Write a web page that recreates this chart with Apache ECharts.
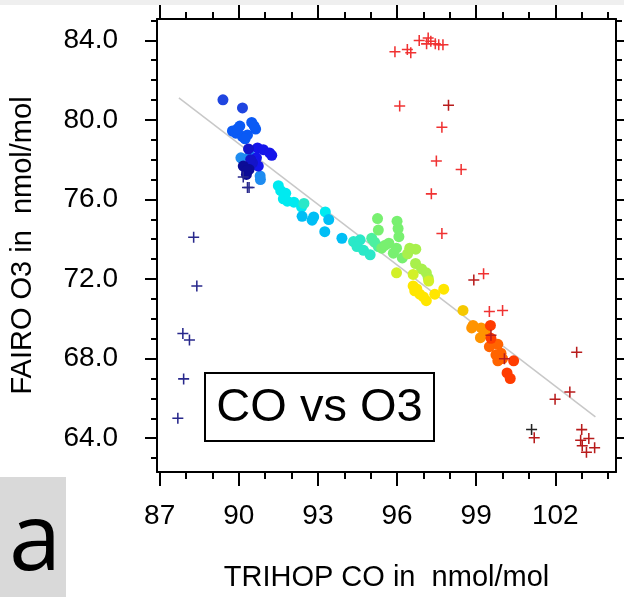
<!DOCTYPE html>
<html>
<head>
<meta charset="utf-8">
<script src="https://cdn.jsdelivr.net/npm/echarts@6/dist/echarts.min.js"></script>
<style>
  html, body { margin: 0; padding: 0; background: #ffffff; }
  #chart { width: 624px; height: 597px; }
</style>
</head>
<body>
<div id="chart"></div>
<script>
// ---- axis ticks ----
const xMajorTicks = [87, 90, 93, 96, 99, 102];
const xMinorTicks = [88, 89, 91, 92, 94, 95, 97, 98, 100, 101, 103, 104];
const yMajorTicks = [64, 68, 72, 76, 80, 84];
const yMinorTicks = [63, 65, 66, 67, 69, 70, 71, 73, 74, 75, 77, 78, 79, 81, 82, 83, 85];

// ---- CO (x) vs O3 (y) samples, grouped by colour band ----
const navyDots = [[90.17, 77.68], [90.39, 77.51], [90.29, 77.26], [90.30, 77.45]];
const darkBlueDots = [[90.37, 78.54], [90.52, 77.84], [90.45, 78.00]];
const blueDots = [[90.71, 78.59], [90.93, 78.50], [91.17, 78.34], [91.25, 78.22], [90.67, 78.09], [90.74, 77.68], [90.60, 77.90]];
const royalDots = [[89.40, 81.01], [90.14, 80.60]];
const azureDots = [[90.04, 79.69], [90.49, 79.87], [90.64, 79.54], [89.76, 79.44], [89.89, 79.33], [90.14, 79.16], [90.33, 79.24], [90.24, 79.05], [89.95, 79.55], [90.58, 79.70]];
const dodgerDots = [[90.08, 78.09], [90.42, 78.22], [90.81, 77.18], [90.82, 77.00]];
const cyanDots = [[91.50, 76.69], [91.59, 76.44], [91.78, 76.31], [91.69, 76.03], [91.84, 75.91], [92.09, 75.86], [92.38, 75.62], [93.28, 75.37]];
const skyDots = [[92.40, 75.15], [92.84, 75.12], [92.78, 74.96], [93.41, 74.99], [93.26, 74.38], [93.91, 74.05]];
const tealDots = [[92.47, 75.80], [94.35, 73.88], [94.60, 73.97], [94.48, 73.63], [94.73, 73.44], [94.98, 73.22]];
const springDots = [[95.04, 74.05], [95.29, 73.63], [95.15, 73.85]];
const greenDots = [[95.26, 75.04], [95.29, 74.46], [95.42, 73.55], [95.69, 73.80], [96.00, 74.91], [96.04, 74.54], [96.07, 74.13], [95.86, 73.30], [95.98, 73.55], [96.20, 73.06], [95.55, 73.70]];
const limeDots = [[96.40, 73.27], [96.71, 73.50], [96.48, 73.55], [96.70, 72.78], [96.93, 72.51], [97.11, 72.31], [97.18, 72.06]];
const chartreuseDots = [[95.98, 72.31], [96.61, 72.23], [97.20, 71.90]];
const yellowDots = [[96.61, 71.65], [96.67, 71.41], [96.86, 71.24], [97.11, 70.91], [97.43, 71.24], [97.77, 71.49], [96.75, 71.50], [97.00, 71.10]];
const goldDots = [[98.50, 70.42]];
const orangeDots = [[98.88, 69.67], [98.83, 69.54], [99.19, 69.54], [99.16, 69.05], [99.35, 69.30]];
const darkOrangeDots = [[99.50, 68.60], [99.82, 68.72], [99.94, 68.27], [99.82, 67.89], [99.75, 68.19], [100.00, 68.00]];
const redOrangeDots = [[100.42, 67.89], [100.17, 67.28], [100.29, 67.00], [99.54, 69.67], [99.56, 69.02]];

// ---- flagged samples (crosses) ----
const navyCrosses = [[87.69, 65.00], [87.91, 66.98], [87.88, 69.26], [88.13, 68.93], [88.29, 74.10], [88.41, 71.65], [90.17, 77.13], [90.33, 76.60], [90.39, 76.60]];
const redCrosses = [[95.92, 83.42], [96.39, 83.54], [96.52, 83.37], [96.84, 83.99], [97.18, 84.11], [97.28, 83.95], [97.12, 83.82], [97.45, 83.83], [97.58, 83.78], [97.74, 83.78],
  [96.10, 80.70], [97.70, 79.63], [97.49, 77.93], [98.43, 77.51], [97.30, 76.28], [97.70, 74.29], [99.28, 72.26], [99.50, 70.37], [100.00, 70.42]];
const darkRedCrosses = [[97.95, 80.73], [98.91, 71.95], [100.07, 67.99], [99.56, 69.17], [102.81, 68.32], [102.55, 66.32], [101.99, 65.96], [101.20, 64.02],
  [103.00, 64.43], [103.27, 63.98], [102.96, 63.90], [103.02, 63.62], [103.49, 63.52], [103.18, 63.29]];
const blackCrosses = [[101.10, 64.44]];

// ---- linear fit end points ----
const fitLine = [[87.73, 81.11], [103.52, 65.07]];

const FONT = '"Liberation Sans", Arial, Helvetica, sans-serif';
const PLUS = 'path://M4.3,0h1.4v4.3h4.3v1.4h-4.3v4.3h-1.4v-4.3h-4.3v-1.4h4.3z';

const dotGroups = [
  [royalDots, '#1f45e0'], [azureDots, '#0a5af5'], [dodgerDots, '#1e8cf0'],
  [blueDots, '#1515ea'], [darkBlueDots, '#1414c8'], [navyDots, '#0c0c96'],
  [cyanDots, '#00eaf0'], [skyDots, '#00bef5'], [tealDots, '#2ae8c8'],
  [springDots, '#4cf0a0'], [greenDots, '#78f070'], [limeDots, '#a8f04c'],
  [chartreuseDots, '#d2f028'], [yellowDots, '#ffe600'], [goldDots, '#f5c800'],
  [orangeDots, '#ff9400'], [darkOrangeDots, '#ff6400'], [redOrangeDots, '#ff3c00']
];
const crossGroups = [
  [navyCrosses, '#28288c'], [redCrosses, '#f03232'], [darkRedCrosses, '#b81c1c'], [blackCrosses, '#222222']
];

const series = [{
  type: 'line', data: fitLine, symbol: 'none', silent: true, z: 1,
  lineStyle: { color: '#c8c8c8', width: 1.5 }
}];
dotGroups.forEach(([data, color]) => series.push({
  type: 'scatter', data, symbol: 'circle', symbolSize: 11, z: 2,
  itemStyle: { color, opacity: 1 }
}));
crossGroups.forEach(([data, color]) => series.push({
  type: 'scatter', data, symbol: PLUS, symbolSize: 11, z: 3,
  itemStyle: { color, opacity: 1 }
}));

const X_MIN = 86.9, X_MAX = 104.3, Y_MIN = 62.3, Y_MAX = 85.07;

function xAxisDef(position, major, withLabels) {
  return {
    type: 'value', position, min: X_MIN, max: X_MAX, gridIndex: 0,
    axisLine: { show: major, onZero: false, lineStyle: { color: '#000', width: 2 } },
    axisTick: { show: true, inside: false, length: major ? 14 : 7,
      customValues: major ? xMajorTicks : xMinorTicks, lineStyle: { color: '#000', width: 2 } },
    axisLabel: withLabels ? { show: true, customValues: xMajorTicks, margin: 30,
      color: '#000', fontSize: 28, fontFamily: FONT } : { show: false },
    splitLine: { show: false },
    name: withLabels ? 'TRIHOP CO in  nmol/mol' : '',
    nameLocation: 'middle', nameGap: 91,
    nameTextStyle: { color: '#000', fontSize: 29, fontFamily: FONT }
  };
}
function yAxisDef(position, major, withLabels) {
  return {
    type: 'value', position, min: Y_MIN, max: Y_MAX, gridIndex: 0,
    axisLine: { show: major, onZero: false, lineStyle: { color: '#000', width: 2 } },
    axisTick: { show: true, inside: false, length: major ? 12 : 6,
      customValues: major ? yMajorTicks : yMinorTicks, lineStyle: { color: '#000', width: 2 } },
    axisLabel: withLabels ? { show: true, customValues: yMajorTicks, margin: 39,
      formatter: v => v.toFixed(1), color: '#000', fontSize: 28, fontFamily: FONT } : { show: false },
    splitLine: { show: false },
    name: withLabels ? 'FAIRO O3 in  nmol/mol' : '',
    nameLocation: 'middle', nameGap: 120,
    nameTextStyle: { color: '#000', fontSize: 29, fontFamily: FONT }
  };
}

const chart = echarts.init(document.getElementById('chart'), null, { renderer: 'canvas' });
chart.setOption({
  backgroundColor: '#ffffff',
  animation: false,
  grid: { left: 154, right: 8, top: 19, bottom: 119, containLabel: false },
  xAxis: [xAxisDef('bottom', true, true), xAxisDef('bottom', false, false),
          xAxisDef('top', true, false), xAxisDef('top', false, false)],
  yAxis: [yAxisDef('left', true, true), yAxisDef('left', false, false),
          yAxisDef('right', true, false), yAxisDef('right', false, false)],
  series,
  graphic: [
    { type: 'rect', left: 0, top: 0, shape: { width: 624, height: 5 }, style: { fill: '#efefef' }, silent: true },
    { type: 'group', left: 204, top: 372, children: [
      { type: 'rect', shape: { x: 0, y: 0, width: 229, height: 68 },
        style: { fill: '#ffffff', stroke: '#000000', lineWidth: 2 } },
      { type: 'text', x: 114.5, y: 35, style: { text: 'CO vs O3', fontSize: 47, fontFamily: FONT,
        fill: '#000', align: 'center', verticalAlign: 'middle' } }
    ] },
    { type: 'group', left: 0, top: 477, children: [
      { type: 'rect', shape: { x: 0, y: 0, width: 66, height: 120 }, style: { fill: '#d9d9d9' } },
      { type: 'text', x: 35, y: 66, style: { text: 'a', fontSize: 94, fontFamily: '"Open Sans", "Noto Sans", sans-serif',
        fill: '#000', align: 'center', verticalAlign: 'middle' } }
    ] }
  ]
});
</script>
</body>
</html>
